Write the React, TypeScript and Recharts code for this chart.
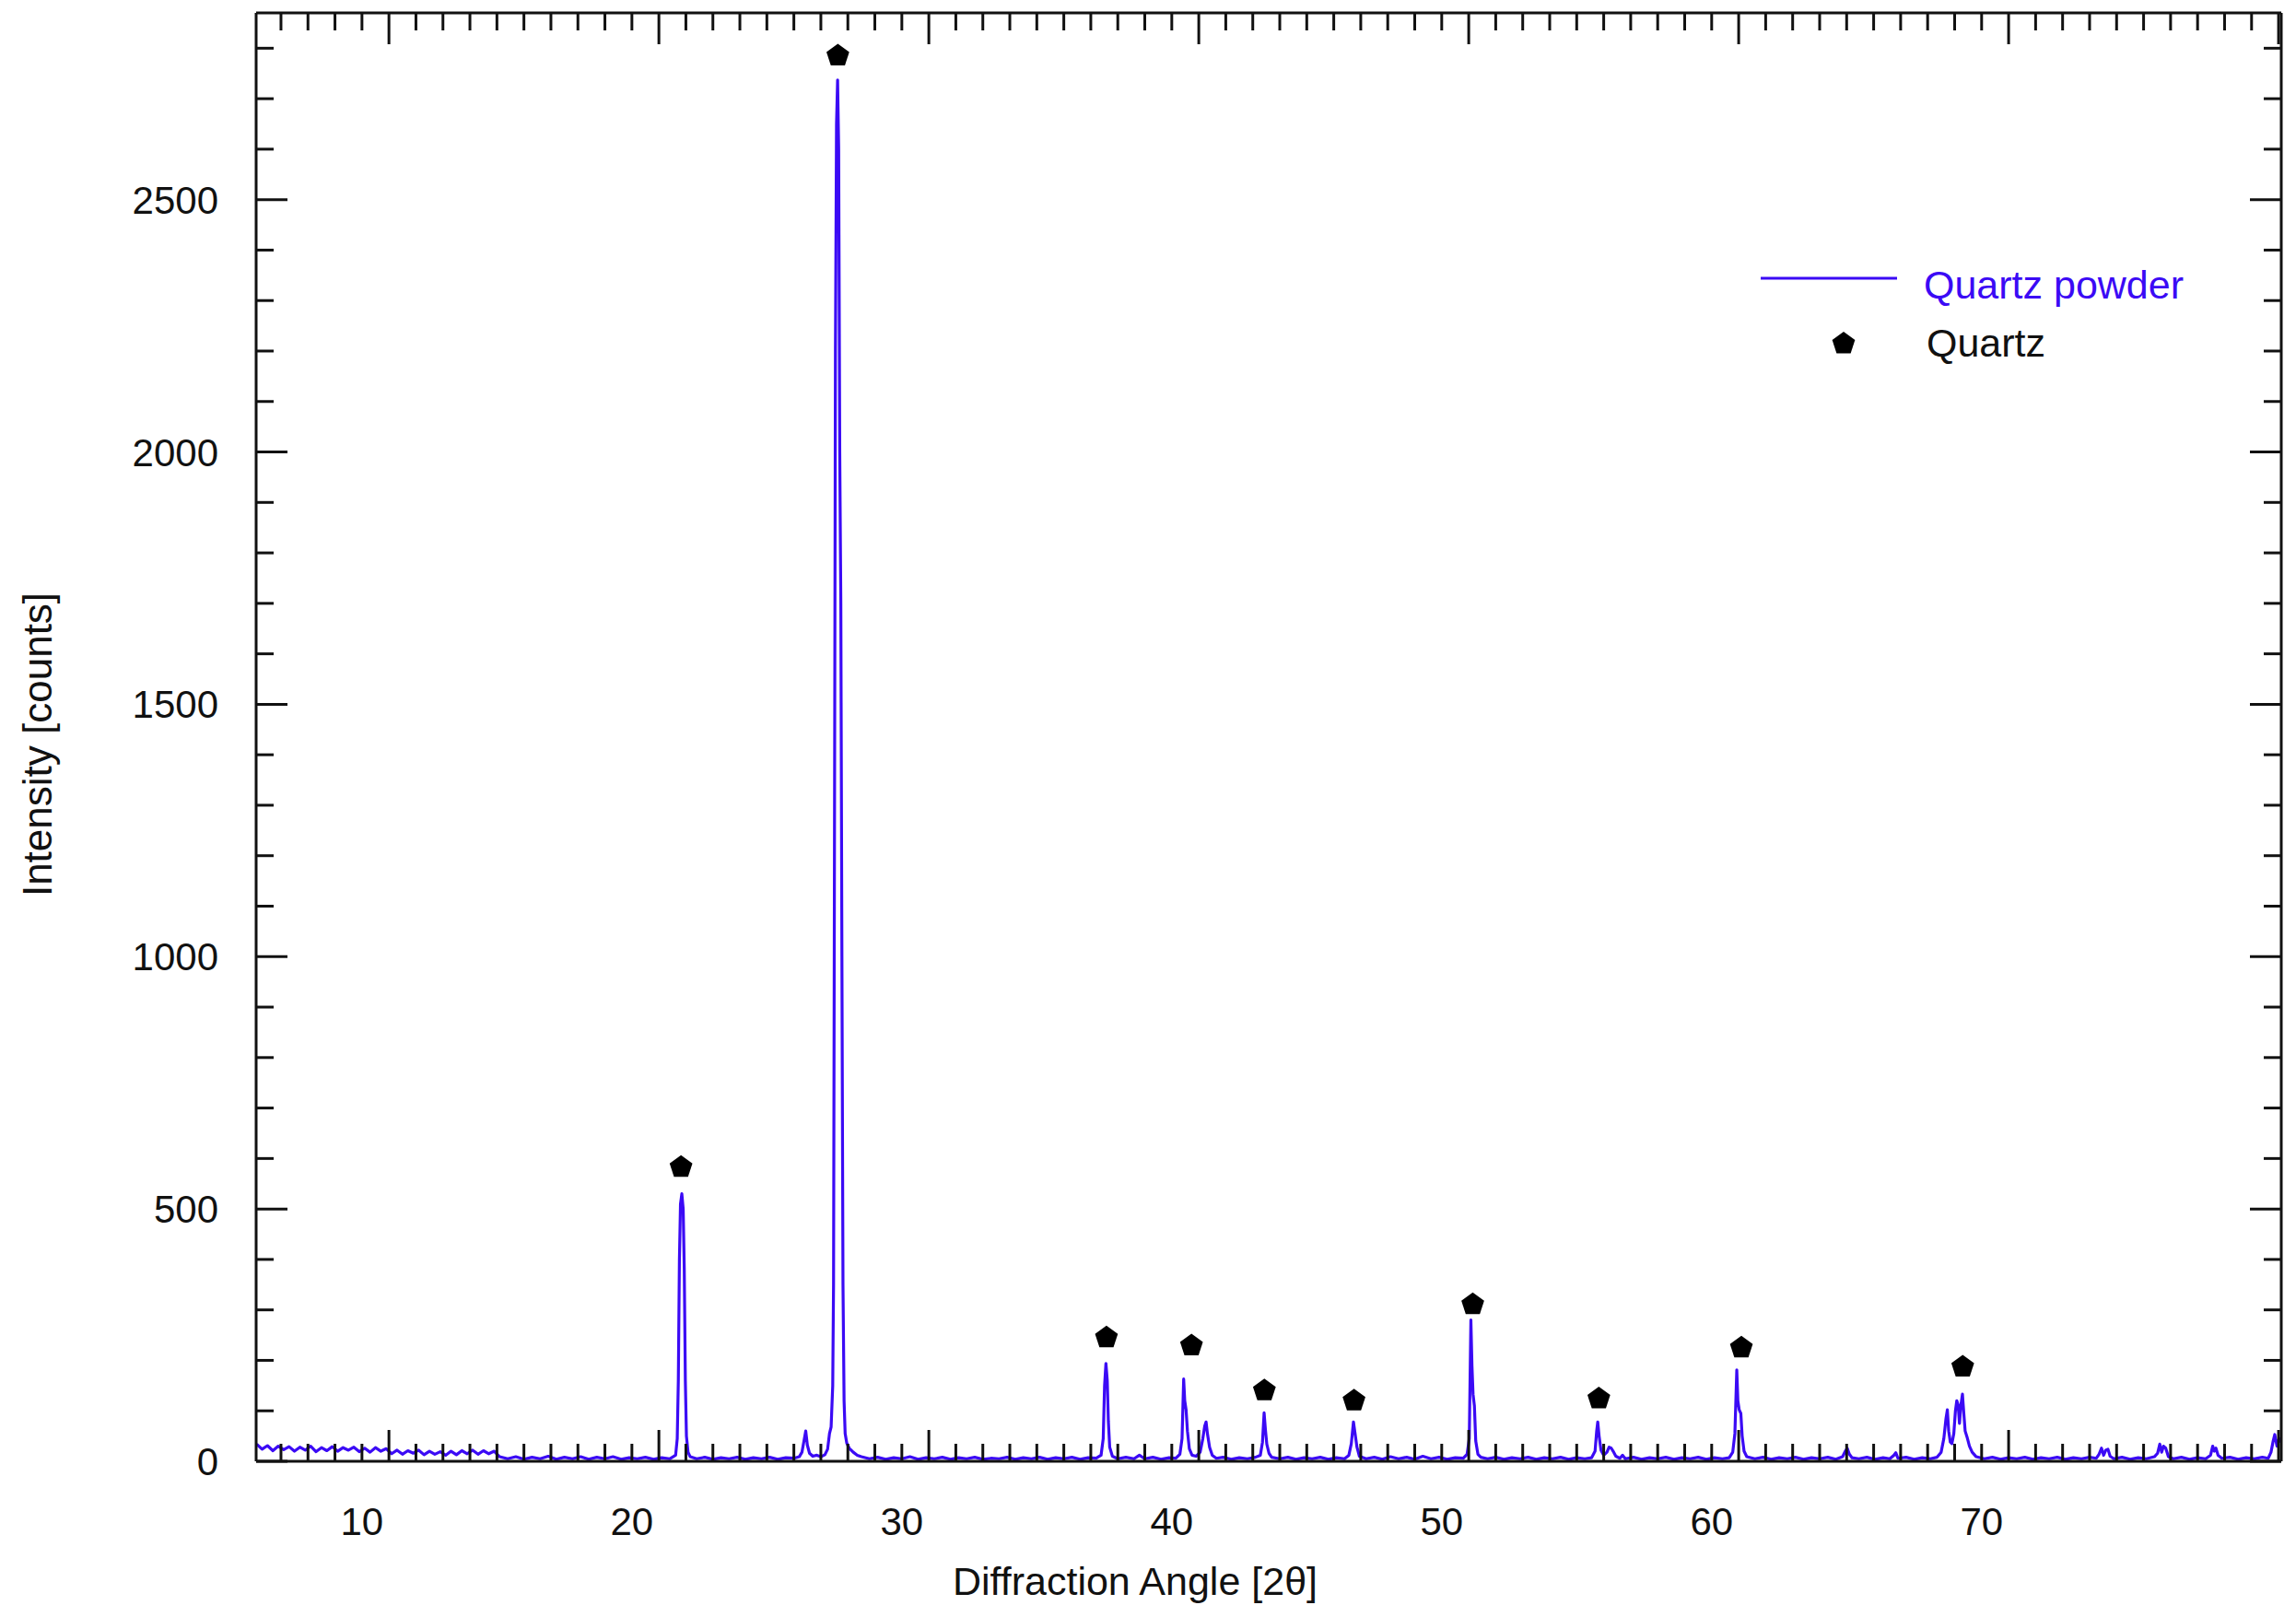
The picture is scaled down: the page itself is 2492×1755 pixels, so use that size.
import { ComposedChart, Legend, Line, Scatter, XAxis, YAxis } from 'recharts';

const BLUE = '#3b0af5';
const INK = '#111';
const FONT = '"Liberation Sans", Arial, sans-serif';

// measured pattern, [2θ, counts]
const quartzPowder: [number, number][] = [
  // 5–14°: raised, noisy background
  [5.1, 34], [5.3, 24], [5.5, 31], [5.7, 21], [5.9, 30], [6.1, 23], [6.3, 29], [6.5, 20], [6.7, 28], [6.9, 22],
  [7.1, 30], [7.3, 19], [7.5, 27], [7.7, 21], [7.9, 29], [8.1, 20], [8.3, 27], [8.5, 22], [8.7, 28], [8.9, 19],
  [9.1, 26], [9.3, 18], [9.5, 27], [9.7, 20], [9.9, 25], [10.1, 15], [10.3, 22], [10.5, 14], [10.7, 21], [10.9, 16],
  [11.1, 22], [11.3, 13], [11.5, 20], [11.7, 14], [11.9, 19], [12.1, 12], [12.3, 20], [12.5, 13], [12.7, 21], [12.9, 15],
  [13.1, 22], [13.3, 14], [13.5, 21], [13.7, 15], [13.9, 20],
  [14.1, 9], [14.4, 5], [14.7, 9], [15.0, 4], [15.3, 8], [15.6, 5], [15.9, 10], [16.2, 4], [16.5, 8], [16.8, 5],
  [17.1, 9], [17.4, 4], [17.7, 8], [18.0, 5], [18.3, 9], [18.6, 4], [18.9, 7], [19.2, 5], [19.5, 8], [19.8, 4],
  [20.1, 7], [20.4, 5],
  // 20.86
  [20.62, 12], [20.68, 45], [20.72, 160], [20.76, 400], [20.8, 510], [20.85, 530], [20.9, 500], [20.94, 380],
  [20.98, 160], [21.02, 50], [21.08, 18], [21.16, 9],
  [21.4, 5], [21.7, 8], [22.0, 4], [22.3, 7], [22.6, 5], [22.9, 8], [23.2, 4], [23.5, 7], [23.8, 5], [24.1, 8],
  [24.4, 4], [24.7, 7], [25.0, 6], [25.2, 9],
  // 25.4 and the main 26.64 reflection
  [25.3, 18], [25.38, 42], [25.44, 60], [25.5, 32], [25.58, 16], [25.7, 10], [25.85, 12], [26.0, 9], [26.15, 13],
  [26.25, 24], [26.32, 55], [26.38, 68], [26.44, 150], [26.47, 350], [26.5, 1100], [26.54, 2200], [26.58, 2650],
  [26.62, 2737], [26.66, 2600], [26.7, 2000], [26.74, 1700], [26.78, 1000], [26.82, 350], [26.86, 120], [26.9, 55],
  [26.96, 36], [27.05, 26], [27.2, 18], [27.35, 12], [27.5, 9],
  [27.8, 5], [28.1, 8], [28.4, 4], [28.7, 7], [29.0, 5], [29.3, 9], [29.6, 4], [29.9, 7], [30.2, 5], [30.5, 8],
  [30.8, 4], [31.1, 7], [31.4, 5], [31.7, 8], [32.0, 4], [32.3, 6], [32.6, 5], [32.9, 8], [33.2, 4], [33.5, 7],
  [33.8, 5], [34.1, 8], [34.4, 4], [34.7, 7], [35.0, 5], [35.3, 8], [35.6, 4], [35.9, 7], [36.2, 6],
  // 36.54
  [36.38, 12], [36.46, 45], [36.51, 150], [36.56, 194], [36.61, 160], [36.65, 80], [36.7, 28], [36.8, 10],
  [37.0, 5], [37.3, 8], [37.6, 5], [37.8, 12], [38.0, 5], [38.3, 8], [38.6, 4], [38.9, 7], [39.15, 6],
  // 39.46 / 40.29
  [39.3, 14], [39.38, 45], [39.44, 163], [39.48, 120], [39.53, 102], [39.58, 60], [39.65, 25], [39.75, 12],
  [39.9, 10], [40.05, 18], [40.15, 45], [40.22, 70], [40.27, 78], [40.32, 55], [40.4, 28], [40.5, 12], [40.65, 6],
  [40.9, 8], [41.2, 4], [41.5, 7], [41.8, 5], [42.1, 8],
  // 42.45
  [42.28, 12], [42.36, 38], [42.42, 96], [42.47, 62], [42.52, 34], [42.6, 16], [42.7, 8],
  [43.0, 5], [43.3, 8], [43.6, 4], [43.9, 7], [44.2, 5], [44.5, 8], [44.8, 4], [45.1, 7], [45.4, 5],
  // 45.8
  [45.56, 12], [45.65, 35], [45.73, 78], [45.79, 55], [45.86, 28], [45.95, 10],
  [46.2, 5], [46.5, 8], [46.8, 4], [47.1, 9], [47.4, 5], [47.7, 8], [48.0, 4], [48.3, 10], [48.6, 5], [48.9, 8],
  [49.2, 4], [49.5, 7], [49.8, 6],
  // 50.14
  [49.94, 14], [50.02, 45], [50.08, 280], [50.12, 190], [50.16, 133], [50.21, 110], [50.26, 40], [50.34, 14],
  [50.45, 8],
  [50.7, 5], [51.0, 8], [51.3, 4], [51.6, 7], [51.9, 5], [52.2, 8], [52.5, 4], [52.8, 7], [53.1, 5], [53.4, 8],
  [53.7, 4], [54.0, 7], [54.3, 5], [54.55, 7],
  // 54.87
  [54.68, 20], [54.74, 60], [54.78, 78], [54.83, 50], [54.9, 22], [55.0, 12], [55.12, 18], [55.2, 28], [55.28, 26],
  [55.35, 20], [55.45, 10], [55.6, 6], [55.7, 12], [55.8, 5],
  [56.1, 8], [56.4, 4], [56.7, 7], [57.0, 5], [57.3, 8], [57.6, 4], [57.9, 7], [58.2, 5], [58.5, 8], [58.8, 4],
  [59.1, 7], [59.4, 5], [59.65, 7],
  // 59.96
  [59.78, 18], [59.86, 55], [59.93, 181], [59.97, 120], [60.02, 102], [60.08, 95], [60.13, 50], [60.2, 20], [60.3, 9],
  [60.6, 5], [60.9, 8], [61.2, 4], [61.5, 7], [61.8, 5], [62.1, 8], [62.4, 4], [62.7, 7], [63.0, 5], [63.3, 8],
  [63.6, 4], [63.85, 9], [63.95, 20], [64.02, 26], [64.1, 14], [64.2, 7], [64.45, 5], [64.75, 8], [65.05, 4],
  [65.35, 7], [65.6, 5], [65.75, 12], [65.82, 17], [65.9, 6], [66.2, 8], [66.5, 4], [66.8, 7], [67.1, 5], [67.35, 8],
  // 67.7–68.3 cluster
  [67.5, 18], [67.6, 45], [67.68, 85], [67.73, 102], [67.78, 60], [67.84, 38], [67.9, 35], [67.97, 55], [68.03, 100],
  [68.08, 120], [68.13, 112], [68.18, 75], [68.23, 110], [68.29, 133], [68.34, 95], [68.39, 60], [68.46, 48],
  [68.55, 30], [68.65, 18], [68.8, 9],
  [69.1, 5], [69.4, 8], [69.7, 4], [70.0, 7], [70.3, 5], [70.6, 8], [70.9, 4], [71.2, 7], [71.5, 5], [71.8, 8],
  [72.1, 4], [72.4, 7], [72.7, 5], [73.0, 8], [73.25, 6],
  [73.35, 14], [73.44, 26], [73.52, 12], [73.6, 22], [73.68, 24], [73.76, 10], [73.9, 5],
  [74.2, 8], [74.5, 4], [74.8, 7], [75.1, 5], [75.4, 9], [75.52, 16], [75.6, 34], [75.67, 18], [75.74, 30],
  [75.82, 26], [75.92, 9], [76.1, 5],
  [76.4, 8], [76.7, 4], [77.0, 7], [77.3, 5], [77.48, 12], [77.56, 30], [77.62, 20], [77.68, 26], [77.76, 12],
  [77.9, 6],
  [78.2, 8], [78.5, 4], [78.8, 7], [79.1, 5], [79.4, 8], [79.62, 6], [79.72, 18], [79.8, 40], [79.86, 53],
  [79.94, 30], [80.02, 45], [80.1, 38],
];

// reflections flagged as quartz, [2θ, marker height]
const quartzPeaks: [number, number][] = [
  [20.82, 583], [26.63, 2785], [36.58, 245], [39.73, 229], [42.43, 140],
  [45.75, 120], [50.15, 311], [54.82, 124], [60.1, 225], [68.3, 187],
];

const xTickLabels = [10, 20, 30, 40, 50, 60, 70];
const yTickLabels = [0, 500, 1000, 1500, 2000, 2500];
// in the source figure the numbers sit one degree left of their ticks
const X_LABEL_SHIFT = 1;

const xTicks = Array.from({ length: 75 }, (_, i) => i + 6);
const yTicks = Array.from({ length: 29 }, (_, i) => i * 100);

const patternData = quartzPowder.map(([x, y]) => ({ x, y }));
const peakData = quartzPeaks.map(([x, y]) => ({ x, y }));

const tickLen = (major: boolean) => (major ? 34 : 19);

function Pentagon({ cx, cy, r = 13 }: { cx: number; cy: number; r?: number }) {
  const pts = [0, 1, 2, 3, 4]
    .map((i) => {
      const a = -Math.PI / 2 + (i * 2 * Math.PI) / 5;
      return `${cx + r * Math.cos(a)},${cy + r * Math.sin(a)}`;
    })
    .join(' ');
  return <polygon points={pts} fill="#000" />;
}

function BottomTick({ x, y, payload }: any) {
  const v = payload.value;
  const label = v + X_LABEL_SHIFT;
  return (
    <g>
      <line x1={x} x2={x} y1={y} y2={y - tickLen(v % 10 === 0)} stroke={INK} strokeWidth={3} />
      {xTickLabels.includes(label) && (
        <text x={x} y={y + 80} textAnchor="middle" fontSize={42} fill={INK} fontFamily={FONT}>
          {label}
        </text>
      )}
    </g>
  );
}

function TopTick({ x, y, payload }: any) {
  return <line x1={x} x2={x} y1={y} y2={y + tickLen(payload.value % 10 === 0)} stroke={INK} strokeWidth={3} />;
}

function LeftTick({ x, y, payload }: any) {
  const v = payload.value;
  return (
    <g>
      <line x1={x} x2={x + tickLen(v % 500 === 0)} y1={y} y2={y} stroke={INK} strokeWidth={3} />
      {yTickLabels.includes(v) && (
        <text x={x - 41} y={y + 15} textAnchor="end" fontSize={42} fill={INK} fontFamily={FONT}>
          {v}
        </text>
      )}
    </g>
  );
}

function RightTick({ x, y, payload }: any) {
  return <line x1={x} x2={x - tickLen(payload.value % 500 === 0)} y1={y} y2={y} stroke={INK} strokeWidth={3} />;
}

function LegendBox({ payload }: any) {
  const items = payload ?? [];
  return (
    <svg width={560} height={140} style={{ overflow: 'visible' }}>
      {items.map((entry: any) =>
        entry.type === 'line' ? (
          <g key="line">
            <line x1={21} x2={169} y1={32} y2={32} stroke={entry.color} strokeWidth={3} />
            <text x={198} y={54} fontSize={43} fill={entry.color} fontFamily={FONT}>
              {entry.value}
            </text>
          </g>
        ) : (
          <g key="mark">
            <Pentagon cx={111} cy={103} />
            <text x={201} y={117} fontSize={43} fill={INK} fontFamily={FONT}>
              {entry.value}
            </text>
          </g>
        ),
      )}
    </svg>
  );
}

const axisLine = { stroke: INK, strokeWidth: 3 };

export default function App() {
  return (
    <div style={{ position: 'absolute', left: 0, top: 0, width: 2492, height: 1755, background: '#fff', fontFamily: FONT }}>
      <ComposedChart width={2492} height={1755} margin={{ top: 0, right: 0, bottom: 0, left: 0 }}>
        <XAxis
          xAxisId="b"
          dataKey="x"
          type="number"
          domain={[5.08, 80.1]}
          allowDataOverflow
          ticks={xTicks}
          interval={0}
          height={169}
          tickSize={0}
          tickMargin={0}
          tickLine={false}
          axisLine={axisLine}
          tick={BottomTick}
          label={{
            value: 'Diffraction Angle [2θ]',
            position: 'insideBottom',
            offset: 24,
            dx: -145,
            style: { fontSize: 43, fontFamily: FONT, fill: INK },
          }}
        />
        <XAxis
          xAxisId="t"
          orientation="top"
          dataKey="x"
          type="number"
          domain={[5.08, 80.1]}
          allowDataOverflow
          ticks={xTicks}
          interval={0}
          height={14}
          tickSize={0}
          tickMargin={0}
          tickLine={false}
          axisLine={axisLine}
          tick={TopTick}
        />
        <YAxis
          yAxisId="l"
          type="number"
          domain={[0, 2870]}
          allowDataOverflow
          ticks={yTicks}
          interval={0}
          width={278}
          tickSize={0}
          tickMargin={0}
          tickLine={false}
          axisLine={axisLine}
          tick={LeftTick}
          label={{
            value: 'Intensity [counts]',
            angle: -90,
            position: 'insideLeft',
            offset: 40,
            dy: 8,
            style: { textAnchor: 'middle', fontSize: 44, fontFamily: FONT, fill: INK },
          }}
        />
        <YAxis
          yAxisId="r"
          orientation="right"
          type="number"
          domain={[0, 2870]}
          allowDataOverflow
          ticks={yTicks}
          interval={0}
          width={16}
          tickSize={0}
          tickMargin={0}
          tickLine={false}
          axisLine={axisLine}
          tick={RightTick}
        />
        <Legend
          layout="horizontal"
          align="center"
          verticalAlign="middle"
          wrapperStyle={{ left: 1890, top: 270, width: 560, height: 140 }}
          content={LegendBox}
        />
        <Line
          xAxisId="b"
          yAxisId="l"
          name="Quartz powder"
          data={patternData}
          dataKey="y"
          type="linear"
          stroke={BLUE}
          strokeWidth={3.2}
          strokeLinejoin="round"
          dot={false}
          activeDot={false}
          legendType="line"
          isAnimationActive={false}
        />
        <Scatter
          xAxisId="b"
          yAxisId="l"
          name="Quartz"
          data={peakData}
          dataKey="y"
          fill="#000"
          legendType="circle"
          shape={(p: any) => <Pentagon cx={p.cx} cy={p.cy} />}
          isAnimationActive={false}
        />
      </ComposedChart>
    </div>
  );
}
